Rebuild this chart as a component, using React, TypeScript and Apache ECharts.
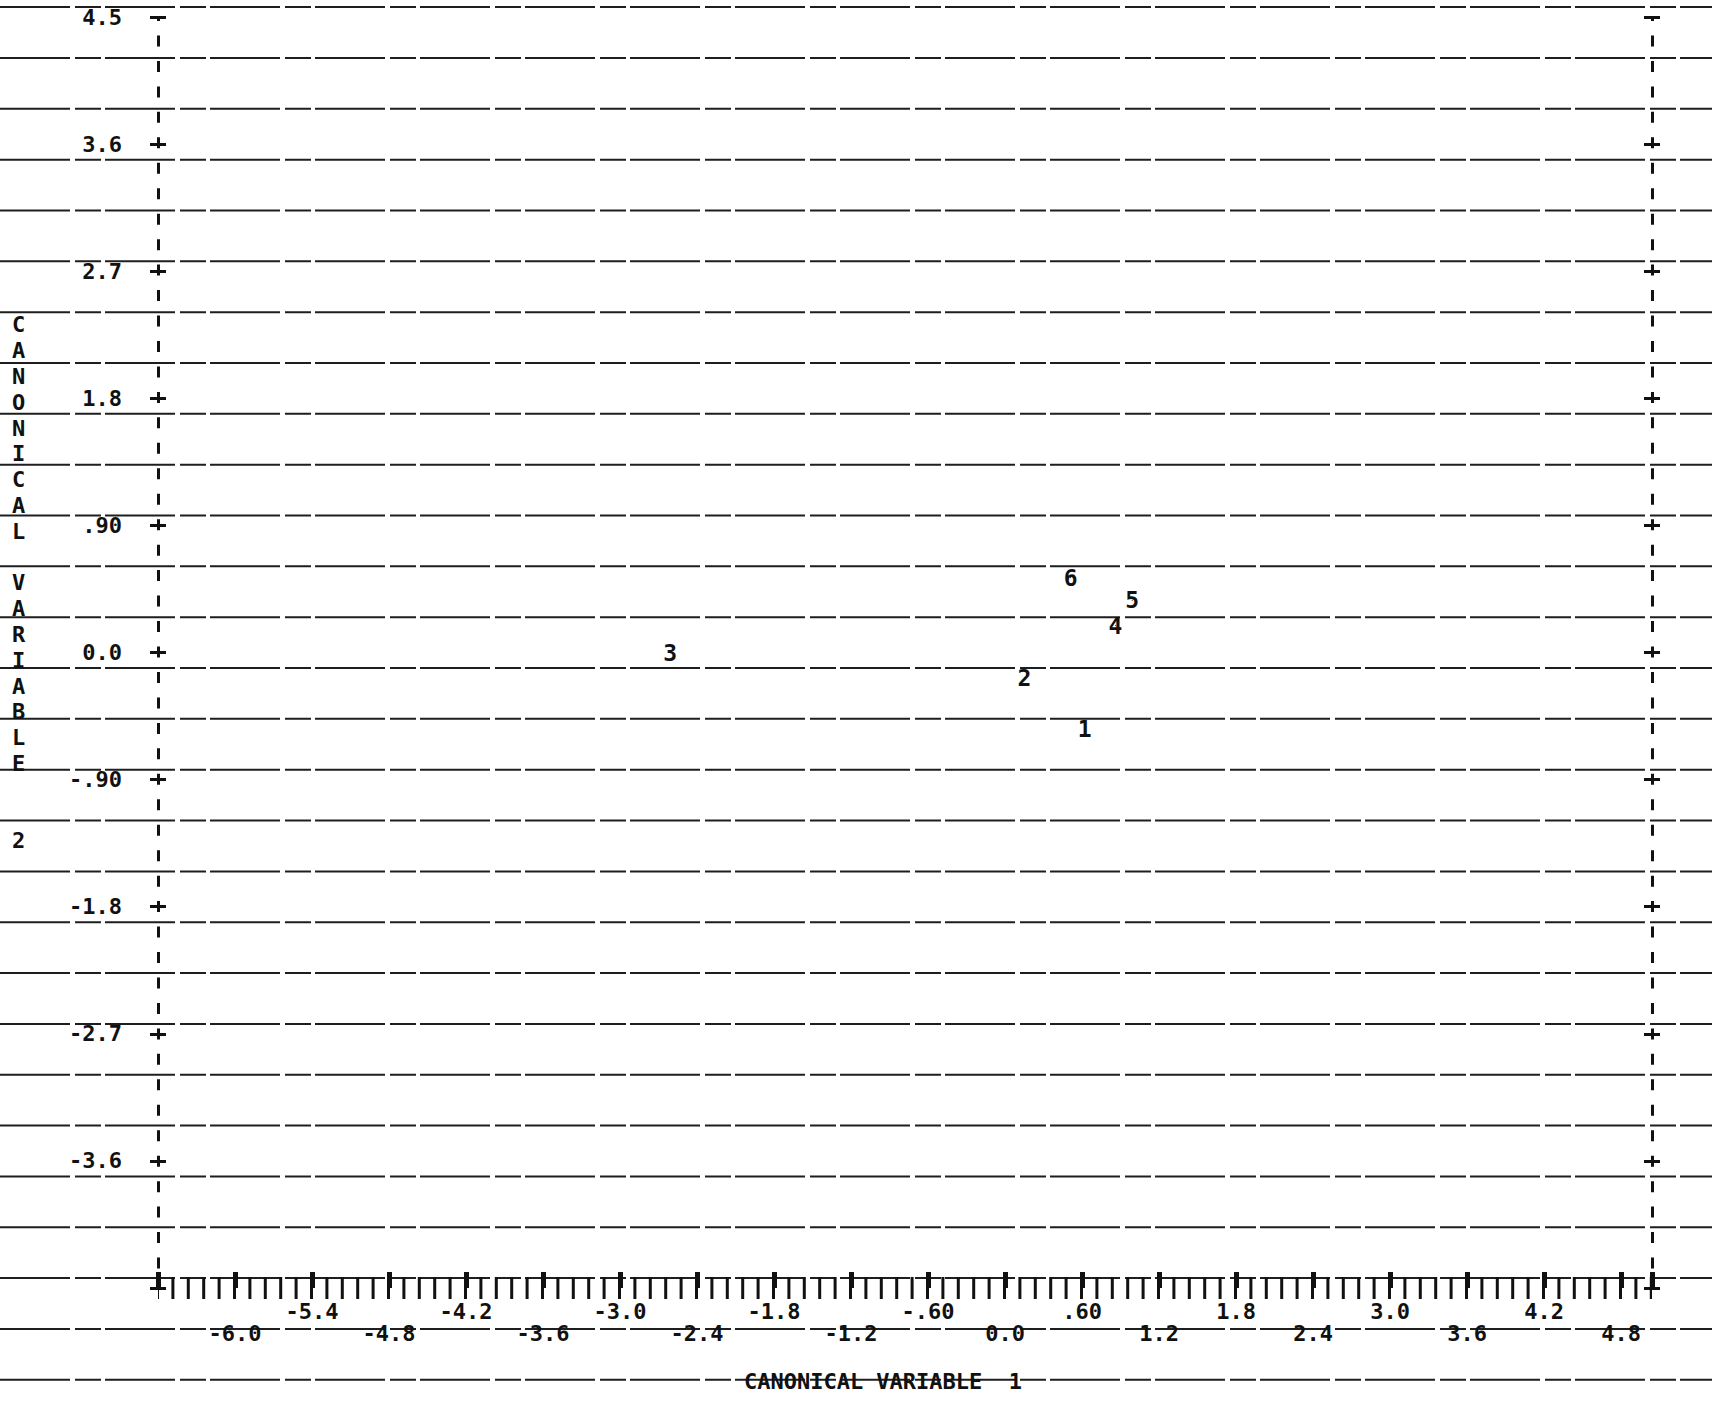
import React, { useEffect, useRef } from "react";
import * as echarts from "echarts";

// ---- data ----
const groups = ["1", "2", "3", "4", "5", "6"];
const canonical1 = [0.62, 0.15, -2.61, 0.86, 0.99, 0.51];
const canonical2 = [-0.54, -0.18, 0.0, 0.19, 0.37, 0.53];

// ---- tick labels as printed ----
const xTickValues = [-6.0, -5.4, -4.8, -4.2, -3.6, -3.0, -2.4, -1.8, -1.2, -0.6, 0.0, 0.6, 1.2, 1.8, 2.4, 3.0, 3.6, 4.2, 4.8];
const xTickLabels = ["-6.0", "-5.4", "-4.8", "-4.2", "-3.6", "-3.0", "-2.4", "-1.8", "-1.2", "-.60", "0.0", ".60", "1.2", "1.8", "2.4", "3.0", "3.6", "4.2", "4.8"];
const yTickValues = [4.5, 3.6, 2.7, 1.8, 0.9, 0.0, -0.9, -1.8, -2.7, -3.6];
const yTickLabels = ["4.5", "3.6", "2.7", "1.8", ".90", "0.0", "-.90", "-1.8", "-2.7", "-3.6"];

const xTitle = "CANONICAL VARIABLE  1";
// vertical title, one printed character per line ("" = blank line)
const yTitleLines = ["C", "A", "N", "O", "N", "I", "C", "A", "L", "", "V", "A", "R", "I", "A", "B", "L", "E", "", "", "2"];

// paper ruling of the printout (every second printer line)
const rulingTop = 4.57;
const rulingStep = 0.36;
const rulingCount = 28;

const FONT = "'DejaVu Sans Mono', 'Liberation Mono', monospace";
const INK = "#111111";

function findLabel(values: number[], v: number): number {
  for (let i = 0; i < values.length; i++) {
    if (Math.abs(values[i] - v) < 1e-6) return i;
  }
  return -1;
}

export default function App() {
  const ref = useRef<HTMLDivElement>(null);

  useEffect(() => {
    if (!ref.current) return;
    const chart = echarts.init(ref.current, undefined, { renderer: "svg" });

    const yTitle = yTitleLines.map((c) => (c === "" ? " " : c)).join("\n");

    const textBase = { fontFamily: FONT, fontSize: 22, fontWeight: "bold" as const, color: INK };

    const yAxisCommon = {
      type: "value" as const,
      min: -4.5,
      max: 4.5,
      interval: 0.9,
      splitLine: { show: false },
    };
    const dashedBorder = {
      show: true,
      onZero: false,
      lineStyle: { color: INK, width: 3, type: [11, 14.46], dashOffset: 5.5, cap: "butt" },
    };

    const option: any = {
      animation: false,
      backgroundColor: "#ffffff",
      title: {
        text: yTitle,
        left: 12,
        top: 312,
        padding: 0,
        textStyle: { ...textBase, lineHeight: 25.8 },
      },
      grid: { left: 158, right: 60, top: 17, bottom: 115, containLabel: false },
      xAxis: {
        type: "value",
        min: -6.6,
        max: 5.04,
        interval: 0.6,
        name: xTitle,
        nameLocation: "middle",
        nameGap: 93,
        nameTextStyle: {
          ...textBase,
          align: "center",
          verticalAlign: "middle",
          padding: [0, 44, 0, 0],
        },
        axisLine: {
          show: true,
          onZero: false,
          lineStyle: { color: INK, width: 22, type: [3, 12.4], dashOffset: 1.5, cap: "butt" },
        },
        axisTick: { show: true, inside: true, length: 16, lineStyle: { color: INK, width: 5 } },
        axisLabel: {
          ...textBase,
          margin: 12,
          lineHeight: 22,
          formatter: (v: number) => {
            const i = findLabel(xTickValues, v);
            if (i < 0) return "";
            return i % 2 === 1 ? xTickLabels[i] : "\n" + xTickLabels[i];
          },
        },
        splitLine: { show: false },
      },
      yAxis: [
        {
          ...yAxisCommon,
          position: "left",
          axisLine: dashedBorder,
          axisTick: { show: true, length: 8, lineStyle: { color: INK, width: 3 } },
          axisLabel: {
            ...textBase,
            margin: 36,
            formatter: (v: number) => {
              const i = findLabel(yTickValues, v);
              return i < 0 ? "" : yTickLabels[i];
            },
          },
        },
        {
          ...yAxisCommon,
          position: "left",
          axisLine: { show: false, onZero: false },
          axisTick: { show: true, inside: true, length: 8, lineStyle: { color: INK, width: 3 } },
          axisLabel: { show: false },
        },
        {
          ...yAxisCommon,
          position: "right",
          axisLine: dashedBorder,
          axisTick: { show: true, length: 8, lineStyle: { color: INK, width: 3 } },
          axisLabel: { show: false },
        },
        {
          ...yAxisCommon,
          position: "right",
          axisLine: { show: false, onZero: false },
          axisTick: { show: true, inside: true, length: 8, lineStyle: { color: INK, width: 3 } },
          axisLabel: { show: false },
        },
      ],
      series: [
        {
          type: "scatter",
          xAxisIndex: 0,
          yAxisIndex: 0,
          data: groups.map((g, i) => [canonical1[i], canonical2[i], g]),
          symbol: "circle",
          symbolSize: 1,
          itemStyle: { color: INK, opacity: 1 },
          z: 5,
          label: {
            show: true,
            position: "inside",
            fontFamily: FONT,
            fontSize: 23,
            fontWeight: "bold",
            color: INK,
            opacity: 1,
            textBorderWidth: 0,
            formatter: (p: any) => p.data[2],
          },
          emphasis: { disabled: true },
        },
      ],
    };

    chart.setOption(option);

    const rulingValues: number[] = [];
    for (let k = 0; k < rulingCount; k++) rulingValues.push(rulingTop - rulingStep * k);
    const lines = rulingValues.map((v) => {
      const y = chart.convertToPixel({ yAxisIndex: 0 }, v) as number;
      return {
        type: "line",
        silent: true,
        z: 0,
        shape: { x1: 0, y1: y, x2: 1712, y2: y },
        style: { stroke: "#1e1e1e", lineWidth: 2, lineDash: [70, 5, 26, 4] },
      };
    });
    chart.setOption({ graphic: lines });

    return () => chart.dispose();
  }, []);

  return (
    <div
      ref={ref}
      style={{ position: "absolute", left: 0, top: 0, width: 1712, height: 1403, background: "#fff" }}
    />
  );
}
